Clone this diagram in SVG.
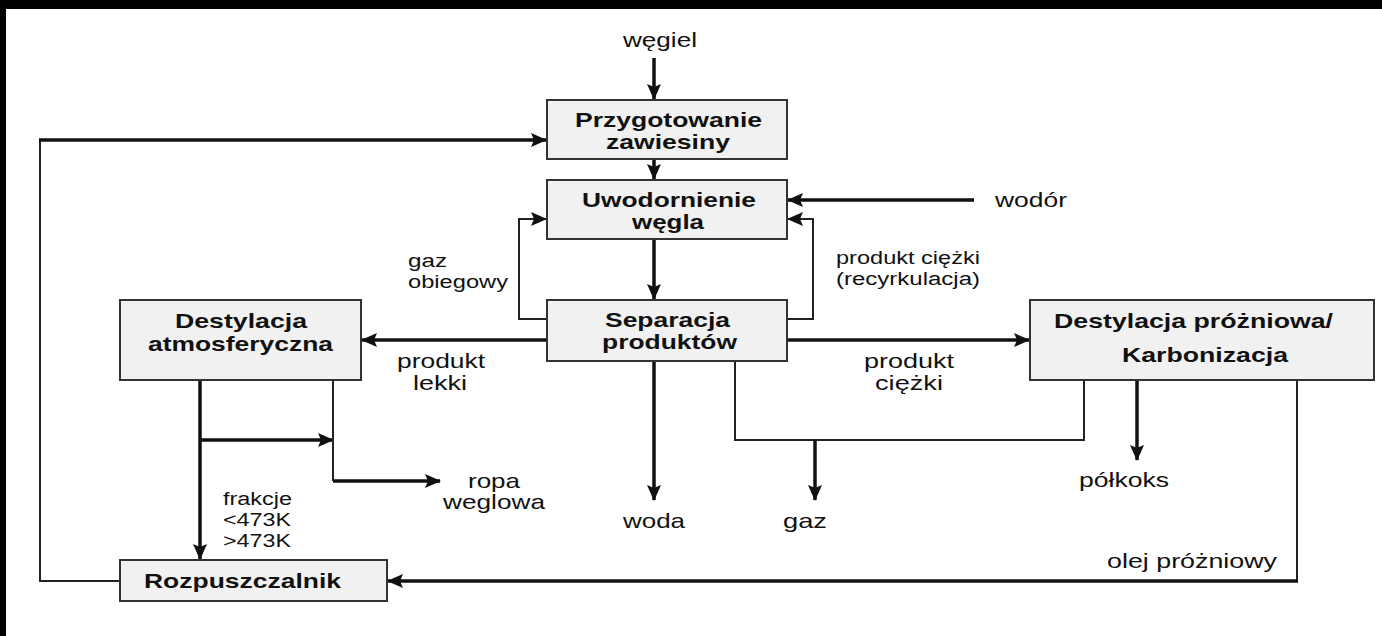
<svg xmlns="http://www.w3.org/2000/svg" width="1382" height="636" viewBox="0 0 1382 636">
<style>
.box{fill:#f1f1f1;stroke:#333;stroke-width:2}
.t{font-family:"Liberation Sans",Arial,sans-serif;fill:#111}
.b{font-weight:bold;font-size:21px}
.n{font-size:21px}
.s{font-size:18px}
.thick{fill:none;stroke:#111;stroke-width:3.5}
.thin{fill:none;stroke:#222;stroke-width:2}
</style>
<defs>
<marker id="ah" markerUnits="userSpaceOnUse" markerWidth="16" markerHeight="14" refX="15" refY="7" orient="auto">
<path d="M0,0 L16,7 L0,14 L3,7 z" fill="#111"/>
</marker>
</defs>
<rect x="0" y="0" width="1382" height="636" fill="#fff"/>
<rect x="0" y="0" width="1382" height="9" fill="#000"/>
<rect x="0" y="0" width="6" height="636" fill="#000"/>

<g id="connectors">
<path class="thick" d="M654,58 V99" marker-end="url(#ah)"/>
<path class="thick" d="M654,159 V179" marker-end="url(#ah)"/>
<path class="thick" d="M654,239 V299" marker-end="url(#ah)"/>
<path class="thick" d="M974,200 H788" marker-end="url(#ah)"/>
<path class="thin" d="M787,319 H813 V219 H788" marker-end="url(#ah)"/>
<path class="thin" d="M547,319 H519 V219 H546" marker-end="url(#ah)"/>
<path class="thick" d="M547,340 H362" marker-end="url(#ah)"/>
<path class="thick" d="M787,340 H1029" marker-end="url(#ah)"/>
<path class="thick" d="M654,361 V500" marker-end="url(#ah)"/>
<path class="thin" d="M735,361 V440 H1084 V380"/>
<path class="thick" d="M815,440 V500" marker-end="url(#ah)"/>
<path class="thick" d="M1137,380 V460" marker-end="url(#ah)"/>
<path class="thin" d="M1297,380 V581"/>
<path class="thick" d="M1298,581 H388" marker-end="url(#ah)"/>
<path class="thick" d="M200,380 V559" marker-end="url(#ah)"/>
<path class="thick" d="M200,440 H333" marker-end="url(#ah)"/>
<path class="thin" d="M333,380 V481"/>
<path class="thick" d="M333,481 H440" marker-end="url(#ah)"/>
<path class="thin" d="M120,581 H40 V140"/>
<path class="thick" d="M39,140 H546" marker-end="url(#ah)"/>
</g>

<g id="n-przygotowanie">
<rect class="box" x="547" y="100" width="240" height="59"/>
<text class="t b" x="575" y="127" textLength="187" lengthAdjust="spacingAndGlyphs">Przygotowanie</text>
<text class="t b" x="606" y="149" textLength="124" lengthAdjust="spacingAndGlyphs">zawiesiny</text>
</g>
<g id="n-uwodornienie">
<rect class="box" x="547" y="180" width="240" height="59"/>
<text class="t b" x="582" y="207" textLength="174" lengthAdjust="spacingAndGlyphs">Uwodornienie</text>
<text class="t b" x="632" y="229" textLength="72" lengthAdjust="spacingAndGlyphs">węgla</text>
</g>
<g id="n-separacja">
<rect class="box" x="547" y="300" width="240" height="61"/>
<text class="t b" x="605" y="327" textLength="125" lengthAdjust="spacingAndGlyphs">Separacja</text>
<text class="t b" x="602" y="349" textLength="135" lengthAdjust="spacingAndGlyphs">produktów</text>
</g>
<g id="n-destylacja-atm">
<rect class="box" x="120" y="300" width="241" height="80"/>
<text class="t b" x="175" y="328" textLength="132" lengthAdjust="spacingAndGlyphs">Destylacja</text>
<text class="t b" x="148" y="351" textLength="185" lengthAdjust="spacingAndGlyphs">atmosferyczna</text>
</g>
<g id="n-destylacja-proz">
<rect class="box" x="1030" y="300" width="344" height="80"/>
<text class="t b" x="1054" y="328" textLength="279" lengthAdjust="spacingAndGlyphs">Destylacja próżniowa/</text>
<text class="t b" x="1122" y="362" textLength="166" lengthAdjust="spacingAndGlyphs">Karbonizacja</text>
</g>
<g id="n-rozpuszczalnik">
<rect class="box" x="120" y="560" width="267" height="41"/>
<text class="t b" x="144" y="588" textLength="197" lengthAdjust="spacingAndGlyphs">Rozpuszczalnik</text>
</g>

<g id="labels">
<text class="t n" x="623" y="47" textLength="74" lengthAdjust="spacingAndGlyphs">węgiel</text>
<text class="t n" x="995" y="207" textLength="72" lengthAdjust="spacingAndGlyphs">wodór</text>
<text class="t s" x="408" y="267" textLength="39" lengthAdjust="spacingAndGlyphs">gaz</text>
<text class="t s" x="408" y="288" textLength="100" lengthAdjust="spacingAndGlyphs">obiegowy</text>
<text class="t s" x="836" y="264" textLength="144" lengthAdjust="spacingAndGlyphs">produkt ciężki</text>
<text class="t s" x="836" y="285" textLength="144" lengthAdjust="spacingAndGlyphs">(recyrkulacja)</text>
<text class="t n" x="397" y="368" textLength="88" lengthAdjust="spacingAndGlyphs">produkt</text>
<text class="t n" x="413" y="390" textLength="54" lengthAdjust="spacingAndGlyphs">lekki</text>
<text class="t n" x="864" y="368" textLength="90" lengthAdjust="spacingAndGlyphs">produkt</text>
<text class="t n" x="875" y="390" textLength="68" lengthAdjust="spacingAndGlyphs">ciężki</text>
<text class="t n" x="623" y="528" textLength="62" lengthAdjust="spacingAndGlyphs">woda</text>
<text class="t n" x="783" y="528" textLength="44" lengthAdjust="spacingAndGlyphs">gaz</text>
<text class="t n" x="1079" y="487" textLength="90" lengthAdjust="spacingAndGlyphs">półkoks</text>
<text class="t n" x="1107" y="568" textLength="170" lengthAdjust="spacingAndGlyphs">olej próżniowy</text>
<text class="t n" x="468" y="488" textLength="52" lengthAdjust="spacingAndGlyphs">ropa</text>
<text class="t n" x="443" y="509" textLength="102" lengthAdjust="spacingAndGlyphs">weglowa</text>
<text class="t s" x="223" y="505" textLength="69" lengthAdjust="spacingAndGlyphs">frakcje</text>
<text class="t s" x="223" y="526" textLength="68" lengthAdjust="spacingAndGlyphs">&lt;473K</text>
<text class="t s" x="223" y="547" textLength="68" lengthAdjust="spacingAndGlyphs">&gt;473K</text>
</g>
</svg>
